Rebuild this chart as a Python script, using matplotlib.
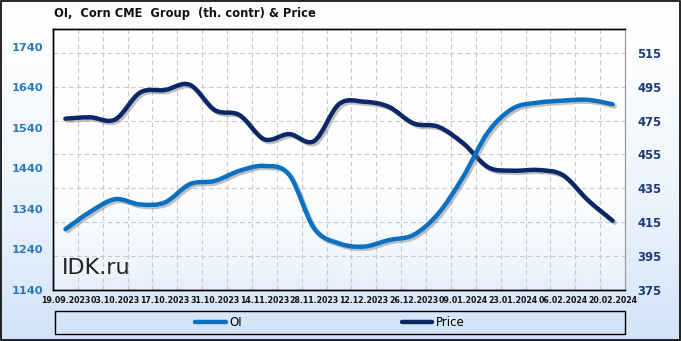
import numpy as np
import matplotlib
matplotlib.use('Agg')
import matplotlib.pyplot as plt
from matplotlib.path import Path
from matplotlib.patches import PathPatch, Rectangle
from matplotlib.lines import Line2D
import matplotlib.patheffects as pe

# weekly dates (every other one is labelled)
dates = ['19.09.2023', '26.09.2023', '03.10.2023', '10.10.2023', '17.10.2023', '24.10.2023',
         '31.10.2023', '07.11.2023', '14.11.2023', '21.11.2023', '28.11.2023', '05.12.2023',
         '12.12.2023', '19.12.2023', '26.12.2023', '02.01.2024', '09.01.2024', '16.01.2024',
         '23.01.2024', '30.01.2024', '06.02.2024', '13.02.2024', '20.02.2024']

# open interest, th. contracts (left axis)
oi = [1290, 1333, 1364, 1351, 1356, 1401, 1409, 1434, 1446, 1424, 1292, 1255,
      1247, 1263, 1276, 1329, 1420, 1530, 1588, 1602, 1607, 1609, 1598]

# price (right axis)
price = [476.1, 476.9, 475.6, 491.5, 493.0, 496.1, 481.2, 478.2, 463.9, 467.0, 462.9, 484.7,
         486.1, 483.1, 473.3, 471.3, 461.5, 447.4, 445.4, 445.8, 442.8, 428.1, 415.9]

left_ticks = [1140, 1240, 1340, 1440, 1540, 1640, 1740]
right_ticks = [375, 395, 415, 435, 455, 475, 495, 515]

C_OI = '#0A70C2'
C_PRICE = '#0B2766'
W, H = 681, 341


def smooth_path(xs, ys):
    # excel-like smoothed line: cubic bezier through every point
    pts = np.column_stack([xs, ys]).astype(float)
    n = len(pts)
    verts = [pts[0]]
    codes = [Path.MOVETO]
    for i in range(n - 1):
        p0 = pts[max(i - 1, 0)]
        p1 = pts[i]
        p2 = pts[i + 1]
        p3 = pts[min(i + 2, n - 1)]
        c1 = p1 + (p2 - p0) / 6.0
        c2 = p2 - (p3 - p1) / 6.0
        verts += [c1, c2, p2]
        codes += [Path.CURVE4] * 3
    return Path(verts, codes)


def add_line(ax, ys, color):
    xs = np.arange(len(ys))
    patch = PathPatch(smooth_path(xs, ys), fill=False, edgecolor=color, lw=3.2,
                      capstyle='round', joinstyle='round', zorder=3)
    patch.set_path_effects([pe.SimpleLineShadow(offset=(1.5, -1.5), shadow_color='#777777', alpha=0.45),
                            pe.Normal()])
    ax.add_patch(patch)


fig = plt.figure(figsize=(W / 100, H / 100), dpi=100)

# figure background gradient
bg = fig.add_axes([0, 0, 1, 1], zorder=-10)
bg.axis('off')
g = np.linspace(0, 1, 256) ** 1.6
bg_col = np.array([1, 1, 1]) * (1 - g[:, None]) + np.array([0.82, 0.89, 0.97]) * g[:, None]
bg.imshow(bg_col[:, None, :], aspect='auto', extent=(0, 1, 1, 0))
bg.set_xlim(0, 1)
bg.set_ylim(1, 0)
bg.add_patch(Rectangle((0.001, 0.002), 0.998, 0.996, fill=False, edgecolor='black', lw=1.2,
                       transform=bg.transAxes))

# price axis is the base one so its grid sits under both lines
ax = fig.add_axes([53 / W, 51 / H, 572 / W, 261 / H])
ax2 = ax.twinx()

n = len(dates)
ax.set_xlim(-0.5, n - 0.5)
ax.set_ylim(375, 529)
ax2.set_ylim(1140, 1783.6)

# plot area fade at the bottom
fade = np.linspace(0, 1, 100) ** 4
pa_col = np.array([1, 1, 1]) * (1 - fade[:, None]) + np.array([0.90, 0.94, 0.98]) * fade[:, None]
ax.imshow(pa_col[:, None, :], aspect='auto', extent=(-0.5, n - 0.5, 375, 529), zorder=0)

add_line(ax, price, C_PRICE)
add_line(ax2, oi, C_OI)

ax.set_xticks(np.arange(0, n, 2))
ax.set_xticklabels(dates[::2], fontsize=5.7, fontweight='bold', color='#111111')
ax.set_xticks(np.arange(0.5, n - 1, 1), minor=True)
ax.tick_params(axis='x', which='both', length=0, pad=4)
ax.grid(True, axis='x', which='minor', color='#C8C8C8', ls=(0, (4, 3)), lw=0.8)

ax.yaxis.tick_right()
ax.set_yticks(right_ticks)
ax.set_yticklabels([str(t) for t in right_ticks], fontsize=8.4, fontweight='bold', color='#1F3A78')
ax.tick_params(axis='y', length=0, pad=9)
ax.grid(True, axis='y', color='#C8C8C8', ls=(0, (4, 3)), lw=0.8)
ax.set_axisbelow(True)

ax2.yaxis.tick_left()
ax2.set_yticks(left_ticks)
ax2.set_yticklabels([str(t) for t in left_ticks], fontsize=8.2, fontweight='bold', color='#2A78C2')
ax2.tick_params(axis='y', length=0, pad=7)

for a in (ax, ax2):
    for s in ('top', 'bottom', 'left'):
        a.spines[s].set_color('black')
        a.spines[s].set_linewidth(1.0)
    a.spines['right'].set_color('#999999')

fig.text(54 / W, 1 - 14 / H, 'OI,  Corn CME  Group  (th. contr) & Price', fontsize=8.3,
         fontweight='bold', color='#111111', va='center', ha='left')
fig.text(62 / W, 1 - 268 / H, 'IDK.ru', fontsize=16, color='#222222', va='center', ha='left')

# legend box
fig.patches.append(Rectangle((55 / W, 1 - 334 / H), 570 / W, 23 / H, fill=False,
                             edgecolor='black', lw=1.0, transform=fig.transFigure))
handles = [Line2D([], [], color=C_OI, lw=3.2, solid_capstyle='round'),
           Line2D([], [], color=C_PRICE, lw=3.2, solid_capstyle='round')]
fig.legend(handles, ['OI', 'Price'], loc='center', bbox_to_anchor=(330 / W, 1 - 323 / H),
           ncol=2, frameon=False, fontsize=8.5, handlelength=2.6, handletextpad=0.3,
           columnspacing=13.5)

fig.savefig('out.png', dpi=100)
